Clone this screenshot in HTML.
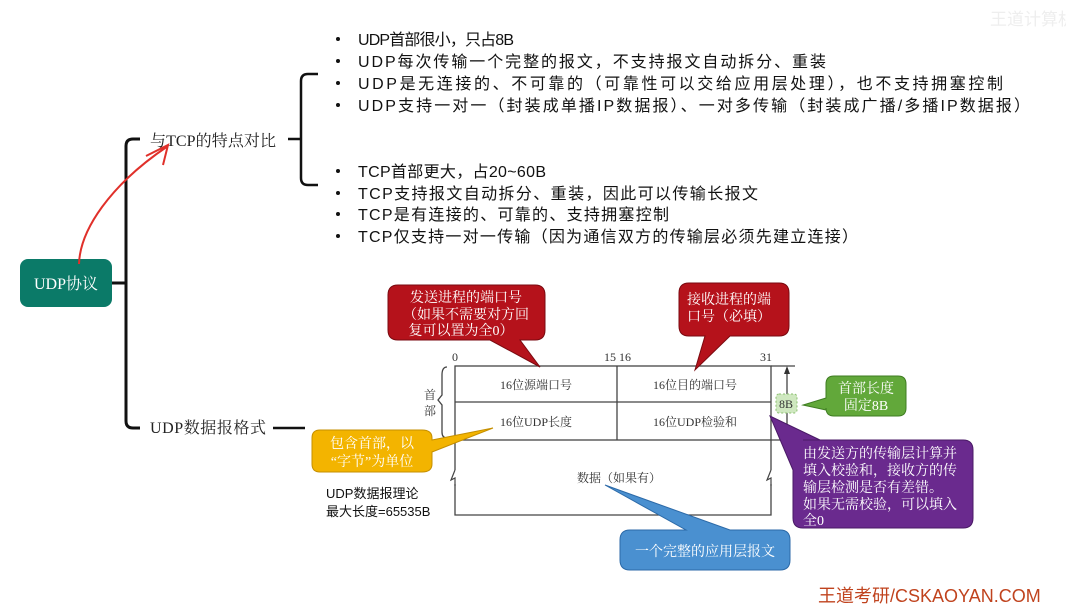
<!DOCTYPE html>
<html><head><meta charset="utf-8"><style>
body{margin:0;background:#fff;}
svg text{font-family:"Liberation Sans","Noto Sans CJK SC",sans-serif;}
.s{font-family:"Liberation Serif","Noto Serif CJK SC",serif !important;}
</style></head><body>
<svg width="1066" height="607" viewBox="0 0 1066 607" xmlns="http://www.w3.org/2000/svg">
<rect width="1066" height="607" fill="#fff"/>
<rect x="20" y="259" width="92" height="48" rx="8" fill="#0b7a68"/>
<text x="66" y="289" font-size="16" fill="#fff" text-anchor="middle" class="s">UDP协议</text>
<path d="M112 283 H126 M140 139 H133 Q126 139 126 146 V421 Q126 428 133 428 H140" stroke="#111" stroke-width="3" fill="none"/>
<text x="150" y="146" font-size="16" fill="#222" class="s" textLength="126">与TCP的特点对比</text>
<text x="150" y="433" font-size="16" fill="#222" class="s" textLength="116">UDP数据报格式</text>
<path d="M288 139 H300 M318 74 H308 Q301 74 301 81 V178 Q301 185 308 185 H318" stroke="#111" stroke-width="2.5" fill="none"/>
<path d="M273 428 H305" stroke="#111" stroke-width="2.5"/>
<path d="M79 264 C80 230 110 185 168 146 M146 156 L168 145 L163 165" stroke="#e0302a" stroke-width="2" fill="none"/>
<g font-size="16" fill="#111">
<g fill="#111"><circle cx="338" cy="39" r="2"/><circle cx="338" cy="61" r="2"/><circle cx="338" cy="83" r="2"/><circle cx="338" cy="105" r="2"/><circle cx="338" cy="171" r="2"/><circle cx="338" cy="193" r="2"/><circle cx="338" cy="214" r="2"/><circle cx="338" cy="236" r="2"/></g>
<text x="358" y="45" textLength="156">UDP首部很小，只占8B</text>
<text x="358" y="67" textLength="468">UDP每次传输一个完整的报文，不支持报文自动拆分、重装</text>
<text x="358" y="89" textLength="645">UDP是无连接的、不可靠的（可靠性可以交给应用层处理），也不支持拥塞控制</text>
<text x="358" y="111" textLength="672">UDP支持一对一（封装成单播IP数据报）、一对多传输（封装成广播/多播IP数据报）</text>
<text x="358" y="177" textLength="188">TCP首部更大，占20~60B</text>
<text x="358" y="199" textLength="400">TCP支持报文自动拆分、重装，因此可以传输长报文</text>
<text x="358" y="220" textLength="311">TCP是有连接的、可靠的、支持拥塞控制</text>
<text x="358" y="242" textLength="500">TCP仅支持一对一传输（因为通信双方的传输层必须先建立连接）</text>
</g>
<text x="990" y="25" font-size="17" fill="#eee">王道计算机</text>
<g stroke="#444" stroke-width="1.3" fill="none">
<rect x="455" y="366" width="316" height="74"/>
<path d="M455 402 H771 M617 366 V440 M455 440 V515 H771 V440"/>
<path d="M771 366 H795 M771 440 H795 M787 368 V438"/>
<path d="M447 367 Q442 367 442 375 V395 L438 400 L442 405 V432 Q442 438 447 438"/>
</g>
<path d="M787 366 l-3 8 h6z M787 440 l-3 -8 h6z" fill="#333"/>
<rect x="452" y="470" width="6" height="14" fill="#fff"/>
<rect x="768" y="470" width="6" height="14" fill="#fff"/>
<path d="M455 470 L451 480 L455 478 V486 M771 470 L767 480 L771 478 V486" stroke="#444" stroke-width="1.2" fill="none"/>
<g font-size="12" fill="#333" class="s">
<text x="452" y="361" class="s">0</text><text x="604" y="361" class="s">15 16</text><text x="760" y="361" class="s">31</text>
<text x="536" y="389" text-anchor="middle" class="s">16位源端口号</text>
<text x="695" y="389" text-anchor="middle" class="s">16位目的端口号</text>
<text x="536" y="426" text-anchor="middle" class="s">16位UDP长度</text>
<text x="695" y="426" text-anchor="middle" class="s">16位UDP检验和</text>
<text x="619" y="482" text-anchor="middle" class="s">数据（如果有）</text>
<text x="424" y="399" class="s">首</text><text x="424" y="415" class="s">部</text>
</g>
<rect x="776" y="394" width="21" height="19" rx="3" fill="#cfe8c0" stroke="#8bbf70" stroke-dasharray="2 2"/>
<text x="786" y="408" font-size="12" fill="#333" text-anchor="middle" class="s">8B</text>
<text x="326" y="498" font-size="13" fill="#111">UDP数据报理论</text>
<text x="326" y="516" font-size="13" fill="#111">最大长度=65535B</text>
<g stroke-width="1">
<path d="M398 285 H535 Q545 285 545 295 V330 Q545 340 535 340 H520 L540 367 L490 340 H398 Q388 340 388 330 V295 Q388 285 398 285Z" fill="#b5121b" stroke="#7a0a10"/>
<path d="M689 283 H779 Q789 283 789 293 V326 Q789 336 779 336 H730 L695 370 L705 336 H689 Q679 336 679 326 V293 Q679 283 689 283Z" fill="#b5121b" stroke="#7a0a10"/>
<path d="M320 430 H422 Q432 430 432 438 V440 L493 428 L432 452 V464 Q432 472 422 472 H320 Q312 472 312 464 V438 Q312 430 320 430Z" fill="#f3b400" stroke="#c58f00"/>
<path d="M630 530 H686 L605 485 L730 530 H780 Q790 530 790 540 V560 Q790 570 780 570 H630 Q620 570 620 560 V540 Q620 530 630 530Z" fill="#4a90d0" stroke="#2c6aa8"/>
<path d="M834 376 H898 Q906 376 906 384 V408 Q906 416 898 416 H834 Q826 416 826 408 V410 L803 405 L826 398 V384 Q826 376 834 376Z" fill="#62a83a" stroke="#3f7d22"/>
<path d="M803 440 H963 Q973 440 973 450 V518 Q973 528 963 528 H803 Q793 528 793 518 V470 L770 416 L820 440Z" fill="#6a2a8e" stroke="#4a1a66"/>
</g>
<g fill="#fff" font-size="14" class="s">
<text x="466" y="302" text-anchor="middle" class="s">发送进程的端口号</text>
<text x="466" y="319" text-anchor="middle" class="s">（如果不需要对方回</text>
<text x="461" y="335" class="s" text-anchor="middle">复可以置为全0）</text>
<text x="687" y="304" class="s">接收进程的端</text>
<text x="687" y="321" class="s">口号（必填）</text>
<text x="372" y="448" text-anchor="middle" class="s">包含首部，以</text>
<text x="372" y="466" text-anchor="middle" class="s">“字节”为单位</text>
<text x="705" y="556" text-anchor="middle" class="s">一个完整的应用层报文</text>
<text x="866" y="393" text-anchor="middle" class="s">首部长度</text>
<text x="866" y="410" text-anchor="middle" class="s">固定8B</text>
<text x="803" y="458" class="s">由发送方的传输层计算并</text>
<text x="803" y="475" class="s">填入校验和，接收方的传</text>
<text x="803" y="492" class="s">输层检测是否有差错。</text>
<text x="803" y="509" class="s">如果无需校验，可以填入</text>
<text x="803" y="525" class="s">全0</text>
</g>
<text x="818" y="602" font-size="18" fill="#c0431e">王道考研/CSKAOYAN.COM</text>
</svg>
</body></html>
